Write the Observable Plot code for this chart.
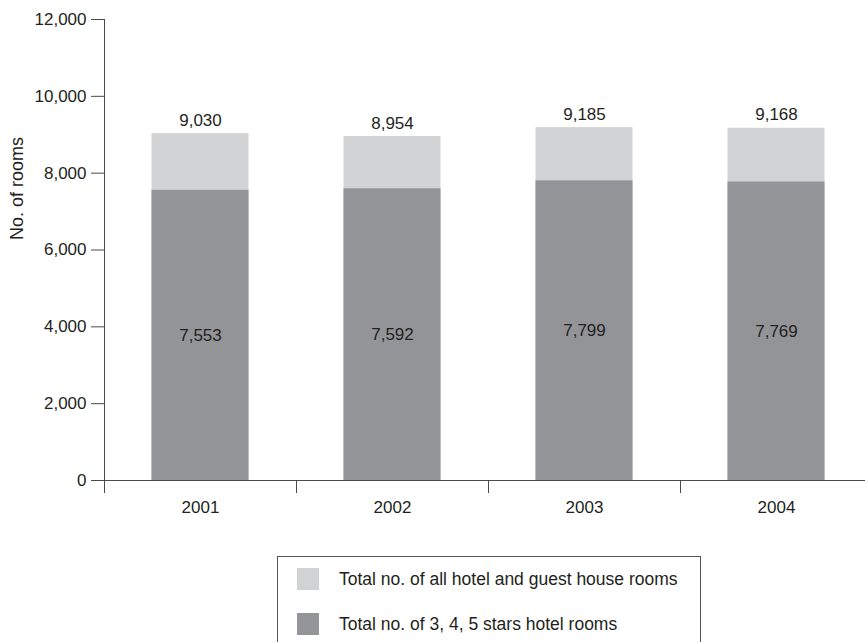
<!DOCTYPE html>
<html>
<head>
<meta charset="utf-8">
<script src="https://cdn.jsdelivr.net/npm/d3@7"></script>
<script src="https://cdn.jsdelivr.net/npm/@observablehq/plot@0.6"></script>
<style>
  html, body { margin: 0; padding: 0; background: white; }
  body { width: 865px; height: 642px; overflow: hidden; font-family: "Liberation Sans", Arial, sans-serif; color: #231f20; }
  #chart { position: absolute; left: 0; top: 0; }
  .legend { position: absolute; left: 277px; top: 556px; width: 424px; height: 110px; border: 1px solid #555; box-sizing: border-box; }
  .legend .row { position: absolute; left: 19px; height: 22px; display: flex; align-items: center; font-size: 17.5px; white-space: nowrap; }
  .legend .sw { width: 22px; height: 22px; margin-right: 20px; }
</style>
</head>
<body>
<div id="chart"></div>
<div class="legend" id="legend"></div>
<script>
const years = ["2001", "2002", "2003", "2004"];
const totalRooms = [9030, 8954, 9185, 9168];
const starRooms = [7553, 7592, 7799, 7769];
const yTicks = [0, 2000, 4000, 6000, 8000, 10000, 12000];
const seriesLabels = ["Total no. of all hotel and guest house rooms", "Total no. of 3, 4, 5 stars hotel rooms"];
const seriesColors = ["#d1d2d4", "#939497"];

const rows = years.map((year, i) => ({year, total: totalRooms[i], star: starRooms[i]}));
const fmt = d3.format(",");
const ink = "#231f20";
const lineColor = "#4a4a4a";

const chart = Plot.plot({
  width: 865,
  height: 530,
  marginLeft: 104,
  marginRight: -7,
  marginTop: 19,
  marginBottom: 50,
  style: {fontFamily: "'Liberation Sans', Arial, sans-serif", fontSize: "17px", color: ink, background: "white"},
  x: {domain: years, paddingInner: 0.495, paddingOuter: 0.2475, round: false, axis: null},
  y: {domain: [0, 12000], axis: null},
  marks: [
    Plot.barY(rows, {x: "year", y: "total", fill: seriesColors[0]}),
    Plot.barY(rows, {x: "year", y: "star", fill: seriesColors[1]}),
    Plot.text(rows, {x: "year", y: "total", text: d => fmt(d.total), lineAnchor: "bottom", dy: -8, fill: ink}),
    Plot.text(rows, Plot.stackY({x: "year", y: "star", text: d => fmt(d.star), fill: ink})),
    Plot.axisY(yTicks, {tickFormat: d => fmt(d), tickSize: 13, tickPadding: 5, stroke: lineColor, fill: ink,
      label: null}),
    Plot.text(["No. of rooms"], {frameAnchor: "left", dx: -87, dy: -10, rotate: -90, fontSize: 18, fill: ink, text: d => d}),
    Plot.axisX(years, {tickSize: 0, tickPadding: 20, fill: ink, label: null}),
    Plot.axisX(years, {tickSize: 13, tickFormat: () => "", dx: -96, stroke: lineColor, label: null}),
    Plot.ruleX([years[0]], {dx: -96, y1: 0, y2: 12000, stroke: lineColor}),
    Plot.ruleY([0], {stroke: lineColor})
  ]
});
document.getElementById("chart").append(chart);

const legend = document.getElementById("legend");
const legendOrder = [0, 1];
legendOrder.forEach((k, j) => {
  const row = document.createElement("div");
  row.className = "row";
  row.style.top = (11 + j * 45) + "px";
  const sw = document.createElement("div");
  sw.className = "sw";
  sw.style.background = seriesColors[k];
  const label = document.createElement("span");
  label.textContent = seriesLabels[k];
  row.append(sw, label);
  legend.append(row);
});
</script>
</body>
</html>
